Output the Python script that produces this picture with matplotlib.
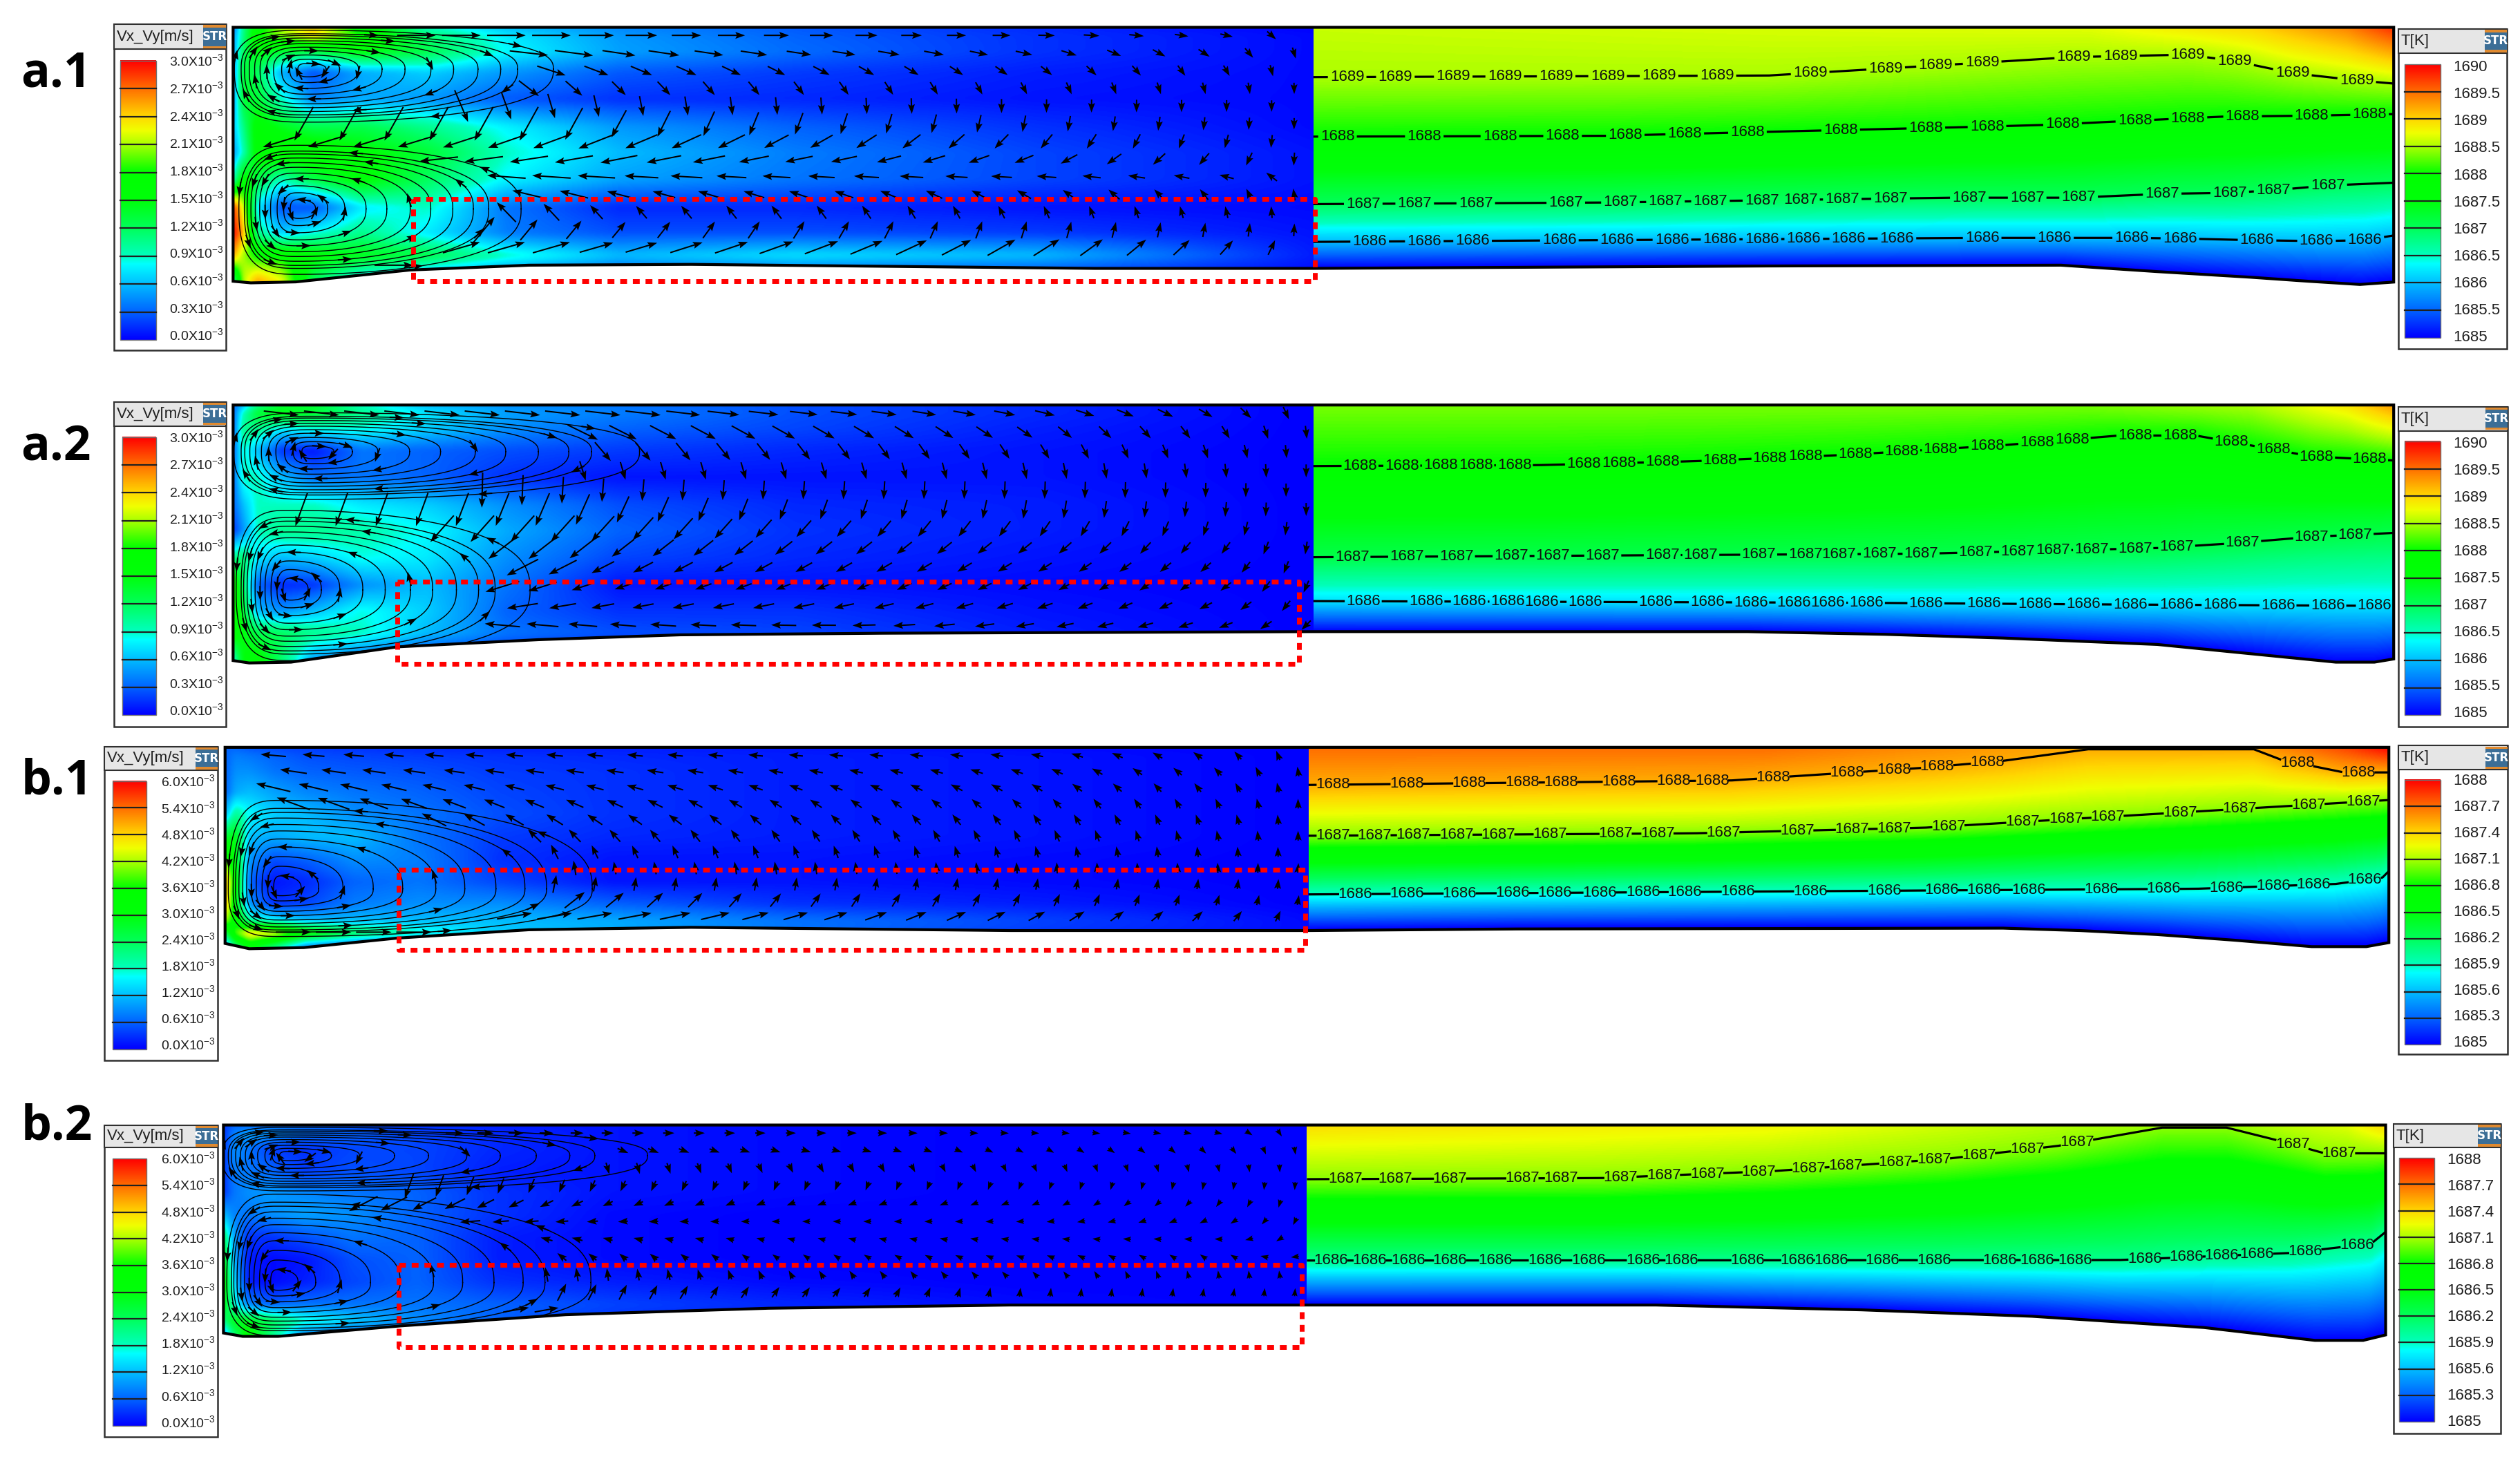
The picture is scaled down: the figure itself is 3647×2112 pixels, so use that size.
import numpy as np
import matplotlib
matplotlib.use('Agg')
import matplotlib.pyplot as plt
from matplotlib.colors import LinearSegmentedColormap
from matplotlib.patches import Polygon, Rectangle

plt.rcParams['font.family'] = ['Liberation Sans', 'DejaVu Sans']
plt.rcParams['mathtext.default'] = 'regular'

# all positions below in a 1568 wide frame
panel_names = ['a.1', 'a.2', 'b.1', 'b.2']
name_y = [54, 286, 494, 709]
left_x = [145, 145, 140, 139]
mid_x = [817, 817, 814, 813]
right_x = [1489, 1489, 1486, 1484]
top_y = [17, 252, 465, 700]

a1_wall_x = [145, 156, 184, 255, 329, 430, 681, 817, 1100, 1282, 1342, 1400, 1436, 1468, 1489]
a1_wall_y = [175, 176, 175.4, 168, 165, 164.5, 167, 167, 165.5, 165, 169, 172.5, 175, 177, 175.5]
a2_wall_x = [145, 155, 181, 247, 335, 423, 549, 817, 1087, 1173, 1246, 1342, 1453, 1477, 1489]
a2_wall_y = [411, 412.5, 412, 402.5, 398, 395, 394, 393, 393, 394.7, 397, 401, 412, 412, 410]
b1_wall_x = [140, 155, 189, 247, 329, 430, 629, 814, 944, 1246, 1294, 1342, 1390, 1438, 1472, 1486]
b1_wall_y = [587, 590.3, 589.6, 583.7, 578.5, 577, 579, 579, 578, 577.5, 579, 581.5, 585, 589, 589, 586.5]
b2_wall_x = [139, 151, 173, 249, 352, 478, 628, 813, 1030, 1158, 1264, 1371, 1440, 1470, 1484]
b2_wall_y = [829.4, 831.5, 831.5, 825, 818, 814, 812, 812, 812, 815, 819, 826, 834, 834, 830.6]
wall_x = [a1_wall_x, a2_wall_x, b1_wall_x, b2_wall_x]
wall_y = [a1_wall_y, a2_wall_y, b1_wall_y, b2_wall_y]

# speed, as a fraction of the colour bar, on a coarse table
speed_dx = [0, 6, 15, 30, 50, 80, 120, 170, 240, 350, 500, 672]
a1_speed_y = [17, 22, 32, 45, 62, 79, 95, 112, 129, 145, 159, 175]
a1_speed = [
    [.10, .35, .55, .70, .80, .55, .30, .20, .14, .09, .04, .00],
    [.15, .35, .60, .68, .78, .60, .38, .25, .16, .10, .05, .01],
    [.15, .40, .50, .45, .42, .50, .42, .27, .17, .11, .05, .01],
    [.15, .45, .40, .18, .08, .18, .22, .16, .09, .06, .03, .01],
    [.15, .45, .45, .30, .14, .18, .16, .09, .05, .04, .02, .01],
    [.20, .35, .55, .48, .42, .42, .35, .26, .16, .10, .05, .01],
    [.15, .30, .55, .58, .58, .52, .45, .30, .20, .13, .07, .02],
    [.30, .55, .42, .30, .42, .52, .40, .26, .17, .12, .07, .02],
    [.95, .75, .25, .08, .08, .25, .30, .12, .04, .04, .02, .01],
    [1.0, .85, .35, .22, .28, .35, .25, .13, .08, .08, .06, .02],
    [.85, .70, .58, .58, .52, .48, .42, .30, .20, .24, .20, .03],
    [.30, .70, .85, .75, .40, .22, .12, .08, .05, .05, .02, .00],
]
a2_speed_y = [252, 257, 267, 280, 297, 314, 330, 347, 364, 380, 394, 412]
a2_speed = [
    [.10, .20, .35, .45, .45, .30, .20, .15, .12, .08, .04, .00],
    [.10, .30, .45, .50, .45, .35, .25, .17, .13, .08, .04, .00],
    [.10, .35, .35, .25, .28, .28, .22, .15, .10, .07, .03, .00],
    [.10, .30, .20, .05, .02, .12, .10, .08, .06, .04, .02, .00],
    [.10, .30, .30, .20, .12, .12, .10, .05, .02, .02, .02, .00],
    [.10, .20, .30, .30, .30, .25, .22, .15, .08, .04, .03, .00],
    [.05, .15, .30, .35, .35, .32, .27, .18, .10, .05, .03, .00],
    [.35, .38, .25, .20, .22, .28, .25, .15, .07, .04, .02, .00],
    [.60, .40, .10, .04, .05, .15, .20, .12, .02, .02, .01, .00],
    [.60, .45, .20, .15, .20, .28, .22, .10, .05, .05, .02, .00],
    [.55, .50, .42, .40, .35, .30, .20, .12, .08, .07, .03, .00],
    [.25, .50, .55, .38, .15, .08, .03, .01, .00, .00, .00, .00],
]
b1_speed_y = [465, 470, 480, 493, 507, 521, 535, 549, 563, 573, 581, 590]
b1_speed = [
    [.10, .10, .08, .07, .06, .05, .04, .03, .03, .02, .01, .00],
    [.10, .13, .12, .10, .08, .07, .06, .05, .04, .03, .02, .00],
    [.10, .15, .15, .12, .10, .09, .08, .06, .05, .03, .02, .00],
    [.10, .18, .20, .17, .14, .12, .10, .07, .05, .03, .02, .00],
    [.20, .35, .27, .22, .20, .15, .12, .08, .05, .03, .02, .00],
    [.45, .50, .20, .18, .20, .20, .12, .06, .04, .03, .02, .00],
    [.65, .50, .15, .08, .10, .15, .13, .05, .02, .02, .01, .00],
    [.85, .55, .10, .02, .04, .10, .12, .07, .02, .02, .01, .00],
    [.85, .50, .15, .05, .07, .13, .15, .15, .10, .05, .03, .00],
    [.70, .55, .32, .26, .20, .20, .20, .20, .18, .12, .07, .01],
    [.40, .65, .80, .75, .55, .40, .30, .22, .18, .12, .06, .01],
    [.12, .35, .50, .35, .12, .05, .03, .02, .01, .00, .00, .00],
]
b2_speed_y = [700, 705, 715, 728, 742, 756, 770, 784, 798, 812, 822, 832]
b2_speed = [
    [.05, .10, .10, .10, .10, .08, .05, .03, .02, .01, .00, .00],
    [.05, .13, .17, .16, .12, .10, .07, .04, .02, .01, .00, .00],
    [.05, .15, .12, .06, .05, .07, .07, .04, .02, .01, .00, .00],
    [.05, .13, .12, .10, .06, .08, .07, .03, .02, .01, .00, .00],
    [.05, .12, .15, .16, .14, .12, .10, .05, .02, .01, .00, .00],
    [.20, .14, .12, .15, .17, .15, .10, .05, .01, .00, .00, .00],
    [.40, .18, .05, .05, .08, .12, .10, .03, .01, .00, .00, .00],
    [.50, .20, .03, .01, .02, .08, .10, .03, .01, .00, .00, .00],
    [.55, .25, .03, .01, .03, .07, .10, .05, .03, .01, .00, .00],
    [.50, .30, .14, .10, .12, .12, .12, .10, .07, .04, .01, .00],
    [.35, .48, .48, .40, .30, .22, .15, .10, .05, .02, .00, .00],
    [.12, .35, .55, .35, .12, .08, .02, .00, .00, .00, .00, .00],
]
speed_y = [a1_speed_y, a2_speed_y, b1_speed_y, b2_speed_y]
speed_tables = [a1_speed, a2_speed, b1_speed, b2_speed]

# flow heading in degrees (0 right, 90 up) at these columns
heading_x = [265, 385, 520, 640, 760, 810]
a1_heading_y = [22, 35, 50, 65, 75, 85, 100, 115, 128, 140, 152, 162]
a1_heading = [
    [0, 0, 0, 0, -10, -60],
    [-5, -10, -10, -15, -40, -80],
    [-15, -30, -40, -50, -70, -90],
    [-60, -75, -85, -90, -90, -90],
    [-110, -110, -100, -95, -95, -90],
    [200, 205, 215, 235, 260, 270],
    [185, 190, 190, 200, 230, 270],
    [170, 170, 170, 165, 140, 100],
    [165, 160, 150, 130, 110, 90],
    [60, 60, 70, 85, 90, 90],
    [20, 20, 25, 35, 50, 80],
    [0, 0, 5, 15, 30, 60],
]
a2_heading_y = [253, 259, 274, 288, 302, 317, 331, 345, 360, 374, 388]
a2_heading = [
    [0, 0, 0, -5, -15, -60],
    [-10, -10, -10, -15, -40, -80],
    [-30, -35, -40, -45, -65, -85],
    [-60, -65, -65, -70, -80, -90],
    [-85, -90, -90, -90, -90, -90],
    [-110, -115, -110, -100, -95, -90],
    [225, 225, 225, 230, 250, 265],
    [215, 215, 215, 215, 225, 260],
    [200, 200, 205, 210, 220, 250],
    [190, 195, 195, 200, 210, 240],
    [175, 175, 180, 190, 200, 225],
]
b1_heading_y = [470, 485, 500, 515, 530, 543, 553, 562, 572, 576]
b1_heading = [
    [175, 175, 175, 170, 140, 100],
    [170, 170, 165, 155, 130, 95],
    [160, 155, 145, 135, 115, 90],
    [150, 140, 130, 120, 105, 90],
    [120, 115, 110, 105, 95, 90],
    [90, 95, 95, 90, 90, 85],
    [70, 75, 75, 75, 80, 85],
    [25, 30, 50, 60, 70, 80],
    [5, 5, 10, 20, 40, 70],
    [0, 0, 5, 10, 20, 60],
]
b2_heading_y = [703, 712, 722, 732, 745, 755, 767, 780, 795, 805, 810]
b2_heading = [
    [0, 0, 0, 0, -10, -70],
    [-10, 0, 0, -15, -30, -80],
    [-40, -60, -40, -50, -70, -90],
    [-80, -90, -80, -80, -85, -90],
    [215, 215, 210, 210, 240, 265],
    [195, 190, 185, 190, 220, 255],
    [170, 175, 170, 175, 190, 235],
    [150, 145, 150, 165, 150, 200],
    [100, 90, 120, 130, 90, 90],
    [60, 60, 45, 80, 80, 85],
    [10, 10, 20, 30, 60, 80],
]
heading_y = [a1_heading_y, a2_heading_y, b1_heading_y, b2_heading_y]
heading_tables = [a1_heading, a2_heading, b1_heading, b2_heading]
arrow_step_x = [28, 25, 25, 19]
arrow_step_y = [11, 12, 10, 11]
arrow_base = [6, 8, 6, 5]
arrow_gain = [90, 120, 100, 120]
arrow_cap = [24, 22, 22, 20]

# eddies: centre x, centre y, left, right, up, down, turn (1 = clockwise on screen)
a1_eddies = [(192, 43, 42, 130, 22, 30, 1), (186, 130, 34, 118, 36, 37, -1)]
a2_eddies = [(195, 281, 45, 173, 22, 27, 1), (181, 367, 31, 127, 45, 40, -1)]
b1_eddies = [(175, 553, 30, 165, 50, 27, -1)]
b2_eddies = [(180, 719, 38, 190, 16, 20, 1), (173, 798, 29, 166, 50, 30, -1)]
eddies = [a1_eddies, a2_eddies, b1_eddies, b2_eddies]
eddy_rings = [.16, .28, .4, .52, .62, .72, .8, .88, .95, 1.0, 1.1]

# isotherms: x knots, y knots, field value on the colour bar, label, label x
a1_iso = [
    ([817, 1100, 1233, 1290, 1361, 1390, 1426, 1466, 1489], [48, 47, 39, 35.5, 34, 38, 45.5, 50, 52], .70, '1689',
     [838, 868, 904, 936, 968, 1000, 1032, 1068, 1126, 1173, 1204, 1233, 1290, 1319, 1361, 1390, 1426, 1466]),
    ([817, 1000, 1100, 1226, 1273, 1319, 1384, 1435, 1489], [85, 84.5, 82, 79, 77.7, 75.5, 72.5, 72, 71], .60, '1688',
     [832, 886, 933, 972, 1011, 1048, 1087, 1145, 1198, 1236, 1283, 1328, 1361, 1395, 1438, 1474]),
    ([817, 1000, 1215, 1291, 1345, 1387, 1414, 1448, 1489], [127, 126, 123, 123, 120.6, 120, 118.4, 115.4, 113.7], .40, '1687',
     [848, 880, 918, 974, 1008, 1036, 1064, 1096, 1120, 1146, 1176, 1225, 1261, 1293, 1345, 1387, 1414, 1448]),
    ([817, 1233, 1326, 1356, 1404, 1441, 1471, 1489], [150.5, 148, 148, 148.4, 149.5, 150, 149.5, 146.5], .20, '1686',
     [852, 886, 916, 970, 1006, 1040, 1070, 1096, 1122, 1150, 1180, 1233, 1278, 1326, 1356, 1404, 1441, 1471]),
]
a2_iso = [
    ([817, 957, 1053, 1149, 1246, 1318, 1366, 1405, 1438, 1489], [290, 289.4, 287, 283, 277, 271, 271, 278, 284, 286.5], .60, '1688',
     [846, 872, 896, 918, 942, 985, 1007, 1034, 1070, 1101, 1123, 1154, 1183, 1207, 1236, 1267, 1289, 1328, 1356, 1388, 1414, 1441, 1474]),
    ([817, 1197, 1342, 1390, 1438, 1489], [346.7, 344.5, 341, 338, 334, 331.6], .42, '1687',
     [841, 875, 906, 940, 966, 997, 1034, 1058, 1094, 1123, 1144, 1169, 1195, 1229, 1255, 1277, 1301, 1328, 1354, 1395, 1438, 1465]),
    ([817, 1149, 1294, 1489], [374, 375, 376, 377], .24, '1686',
     [848, 887, 914, 938, 959, 986, 1030, 1062, 1089, 1116, 1137, 1161, 1198, 1234, 1266, 1296, 1325, 1354, 1381, 1417, 1448, 1477]),
]
b1_iso = [
    ([814, 1077, 1120, 1197, 1246, 1299, 1402, 1419, 1458, 1486], [488.4, 485.6, 482.7, 477.7, 473.4, 466.2, 466.2, 472.7, 480.6, 480.6], .84, '1688',
     [829, 875, 914, 947, 971, 1007, 1041, 1065, 1103, 1149, 1178, 1205, 1236, 1429, 1467]),
    ([814, 1053, 1197, 1318, 1390, 1486], [520, 518.5, 515, 507.8, 503.5, 497.8], .68, '1687',
     [829, 855, 879, 906, 932, 964, 1005, 1031, 1072, 1118, 1152, 1178, 1212, 1258, 1285, 1311, 1356, 1393, 1436, 1470]),
    ([814, 1270, 1366, 1453, 1482, 1486], [556.5, 553.6, 553, 550, 546, 542], .30, '1686',
     [843, 875, 908, 941, 967, 995, 1022, 1048, 1081, 1126, 1172, 1208, 1234, 1262, 1307, 1346, 1385, 1414, 1439, 1471]),
]
b2_iso = [
    ([813, 997, 1104, 1211, 1280, 1345, 1385, 1417, 1446, 1484], [733.7, 733, 728.6, 721, 713, 701.6, 701.6, 709.6, 717.6, 717.6], .68, '1687',
     [837, 868, 902, 947, 971, 1008, 1035, 1062, 1094, 1125, 1148, 1179, 1203, 1231, 1261, 1292, 1426, 1455]),
    ([813, 1318, 1425, 1475, 1484], [784.3, 784, 779.6, 773.8, 766.5], .35, '1686',
     [828, 852, 876, 902, 930, 961, 988, 1022, 1046, 1087, 1118, 1139, 1171, 1203, 1244, 1267, 1291, 1334, 1360, 1382, 1404, 1434, 1466]),
]
isotherms = [a1_iso, a2_iso, b1_iso, b2_iso]
iso_font = ['Liberation Sans', 'Liberation Sans', 'Liberation Sans Narrow', 'Liberation Sans Narrow']
iso_gap = [12, 11.5, 10, 10]

# field value along the top wall of the temperature half
a1_top_x, a1_top_c = [817, 1300, 1400, 1460, 1489], [.72, .74, .80, .88, .96]
a2_top_x, a2_top_c = [817, 1300, 1400, 1460, 1489], [.67, .67, .70, .78, .86]
b1_top_x, b1_top_c = [814, 1100, 1300, 1400, 1460, 1486], [.90, .90, .84, .85, .94, 1.0]
b2_top_x, b2_top_c = [813, 1100, 1300, 1400, 1460, 1484], [.79, .76, .70, .70, .74, .80]
top_xs = [a1_top_x, a2_top_x, b1_top_x, b2_top_x]
top_cs = [a1_top_c, a2_top_c, b1_top_c, b2_top_c]

# dotted red boxes: left, right, top, bottom
box_l = [257, 247, 248, 248]
box_r = [818, 808, 812, 810]
box_t = [124, 362, 541, 787]
box_b = [175, 413, 591, 838]

# legends
speed_labels_a = ['3.0', '2.7', '2.4', '2.1', '1.8', '1.5', '1.2', '0.9', '0.6', '0.3', '0.0']
speed_labels_b = ['6.0', '5.4', '4.8', '4.2', '3.6', '3.0', '2.4', '1.8', '1.2', '0.6', '0.0']
temp_labels_a = ['1690', '1689.5', '1689', '1688.5', '1688', '1687.5', '1687', '1686.5', '1686', '1685.5', '1685']
temp_labels_b = ['1688', '1687.7', '1687.4', '1687.1', '1686.8', '1686.5', '1686.2', '1685.9', '1685.6', '1685.3', '1685']
speed_box = [(71, 140.5, 15, 218, 30.6, 75, 97, 37.7, 211.6, 105.5, 38, 208.7),
             (71, 140.5, 250, 452, 265, 76, 97, 272, 445, 105.5, 272, 442),
             (65, 135.6, 464.5, 659.6, 479.3, 70, 91, 486, 652.8, 100, 486.4, 650),
             (65, 135.6, 700, 894, 714, 70, 91, 721, 887, 100, 721, 885)]
temp_box = [(1492, 1559.5, 18, 217, 33, 1496, 1518, 40, 210, 1526, 42, 210),
            (1492, 1560, 253, 452, 268, 1496, 1518, 274.6, 445, 1526, 276, 444),
            (1492, 1560, 464, 656, 479, 1496, 1518, 485.3, 650, 1526, 486, 649),
            (1489, 1555.5, 699.4, 892, 714, 1492.5, 1514.4, 720.5, 884.6, 1522, 722, 884.6)]

bar_colors = [(0, '#0000ff'), (.1, '#0064ff'), (.2, '#00beff'), (.27, '#00ffff'), (.3, '#00ffbe'),
              (.4, '#00ff5a'), (.5, '#00ff0a'), (.6, '#00ff00'), (.7, '#aaff00'), (.75, '#f0ff00'),
              (.8, '#ffd700'), (.9, '#ff6e00'), (1, '#ff0000')]
cmap = LinearSegmentedColormap.from_list('bar', bar_colors)


def table_to_grid(table, xk, yk, gx, gy):
    rows = np.array([np.interp(gx, xk, r) for r in np.array(table, dtype=float)])
    return np.array([np.interp(gy, yk, rows[:, i]) for i in range(len(gx))]).T


def soften(field, n):
    kernel = np.ones(n) / n
    pad = n // 2
    for axis in (0, 1):
        padded = np.pad(field, [(pad, pad) if a == axis else (0, 0) for a in (0, 1)], mode='edge')
        field = np.apply_along_axis(lambda m: np.convolve(m, kernel, mode='valid'), axis, padded)
    return field


def ring_xy(eddy, rho, t):
    cx, cy, left, right, up, down, turn = eddy
    c, s = np.cos(t), np.sin(t)
    ex = np.where(c < 0, 2 / 3.2, 1.0)
    ey = 2 / 2.6
    # inner rings are nearly round, the outer ones stretch to the right
    reach = np.where(c < 0, left * rho, right * rho ** 1.7 + 6 * (1 - rho))
    x = cx + reach * np.sign(c) * np.abs(c) ** ex
    y = cy + rho * np.where(s < 0, up, down) * np.sign(s) * np.abs(s) ** ey
    return x, y


def inside_eddy(eddy, x, y):
    cx, cy, left, right, up, down, turn = eddy
    dx, dy = x - cx, y - cy
    rx = np.where(dx < 0, left, right)
    px = np.where(dx < 0, 3.2, 2.0)
    ry = np.where(dy < 0, up, down)
    return (np.abs(dx) / rx) ** px + (np.abs(dy) / ry) ** 2.6 < 1.0


fig = plt.figure(figsize=(36.48, 21.12), dpi=100)
ax = fig.add_axes([0, 0, 1, 1])

for p in range(4):
    x0, xm, x1, top = left_x[p], mid_x[p], right_x[p], top_y[p]
    ax.text(13, name_y[p], panel_names[p], fontsize=50, fontweight='bold', family='Open Sans',
            ha='left', va='baseline', color='black')

    # domain outline
    wx, wy = np.array(wall_x[p], float), np.array(wall_y[p], float)
    outline = [(x0, top), (x1, top)] + list(zip(wx[::-1], wy[::-1]))
    bottom_max = wy.max()

    # speed half
    gx = np.arange(x0, xm + .5, .5)
    gy = np.arange(top, bottom_max + .5, .5)
    speed_xk = [x0 + d * (xm - x0) / 672 for d in speed_dx]
    speed = table_to_grid(speed_tables[p], speed_xk, speed_y[p], gx, gy)
    speed = soften(soften(speed, 7), 7)
    im = ax.imshow(speed, extent=[x0, xm, bottom_max, top], cmap=cmap, vmin=0, vmax=1,
                   aspect='auto', interpolation='bilinear', zorder=1)
    im.set_clip_path(Polygon(outline, closed=True, transform=ax.transData))

    # temperature half
    gx2 = np.arange(xm, x1 + .5, .5)
    field = np.zeros((len(gy), len(gx2)))
    lines = isotherms[p]
    top_c = np.interp(gx2, top_xs[p], top_cs[p])
    wall_line = np.interp(gx2, wx, wy)
    line_y = [np.interp(gx2, ln[0], ln[1]) for ln in lines]
    for i in range(len(gx2)):
        yk = [top] + [ly[i] for ly in line_y] + [wall_line[i]]
        ck = [top_c[i]] + [ln[2] for ln in lines] + [0]
        yk = np.maximum.accumulate(np.array(yk) + np.arange(len(yk)) * 1e-3)
        field[:, i] = np.interp(gy, yk, ck)
    field = soften(field, 5)
    im2 = ax.imshow(field, extent=[xm, x1, bottom_max, top], cmap=cmap, vmin=0, vmax=1,
                    aspect='auto', interpolation='bilinear', zorder=1)
    im2.set_clip_path(Polygon(outline, closed=True, transform=ax.transData))

    # isotherm lines with labels
    for k, ln in enumerate(lines):
        ly = line_y[k].copy()
        for lx in ln[4]:
            ly[np.abs(gx2 - lx) < iso_gap[p]] = np.nan
        ax.plot(gx2, ly, color='black', lw=2.3, zorder=3, solid_capstyle='butt')
        for lx in ln[4]:
            ax.text(lx, np.interp(lx, ln[0], ln[1]), ln[3], fontsize=16, family=[iso_font[p], 'Liberation Sans'],
                    ha='center', va='center', color='#101010', zorder=4)

    # eddy loops
    t = np.linspace(0, 2 * np.pi, 241)
    clip_poly = Polygon(outline, closed=True, transform=ax.transData)
    ring_x, ring_y, ring_u, ring_v = [], [], [], []
    for e in eddies[p]:
        for n, rho in enumerate(eddy_rings):
            xr, yr = ring_xy(e, rho, t)
            line, = ax.plot(xr, yr, color='black', lw=1.0, zorder=3)
            line.set_clip_path(clip_poly)
            for a in np.linspace(.3 + .7 * n, 5 + .7 * n, 3):
                xa, ya = ring_xy(e, rho, np.array([a - .02, a + .02]))
                d = np.hypot(xa[1] - xa[0], ya[1] - ya[0]) + 1e-6
                ring_x.append(xa.mean())
                ring_y.append(ya.mean())
                ring_u.append(e[6] * (xa[1] - xa[0]) / d * 9)
                ring_v.append(e[6] * (ya[1] - ya[0]) / d * 9)

    # arrows in the open part of the half
    hx, hy = np.array(heading_x, float), np.array(heading_y[p], float)
    ang = np.radians(np.array(heading_tables[p], float))
    cos_t, sin_t = np.cos(ang), np.sin(ang)
    px, py, pu, pv = [], [], [], []
    for r, y in enumerate(np.arange(top + 5, bottom_max, arrow_step_y[p])):
        shift = (r % 2) * arrow_step_x[p] / 2
        for x in np.arange(x0 + 30 + shift, xm - 3, arrow_step_x[p]):
            if y > np.interp(x, wx, wy) - 3:
                continue
            if any(inside_eddy(e, np.array(x), np.array(y)) for e in eddies[p]):
                continue
            ci = [np.interp(y, hy, cos_t[:, j]) for j in range(len(hx))]
            si = [np.interp(y, hy, sin_t[:, j]) for j in range(len(hx))]
            c, s = np.interp(x, hx, ci), np.interp(x, hx, si)
            norm = np.hypot(c, s) + 1e-6
            ix = min(int((x - x0) * 2), speed.shape[1] - 1)
            iy = min(int((y - top) * 2), speed.shape[0] - 1)
            length = min(arrow_base[p] + arrow_gain[p] * speed[iy, ix], arrow_cap[p])
            px.append(x)
            py.append(y)
            pu.append(c / norm * length)
            pv.append(-s / norm * length)
    px += ring_x
    py += ring_y
    pu += ring_u
    pv += ring_v
    q = ax.quiver(px, py, pu, pv, angles='xy', scale_units='xy', scale=1, pivot='mid', color='black',
                  units='dots', width=2.0, headwidth=5, headlength=7, headaxislength=6, zorder=3)
    q.set_clip_path(Polygon(outline, closed=True, transform=ax.transData))

    # outline on top
    ax.add_patch(Polygon(outline, closed=True, fill=False, edgecolor='black', lw=3, zorder=5, joinstyle='miter'))

    # dotted red box
    ax.plot([box_l[p], box_r[p], box_r[p], box_l[p], box_l[p]],
            [box_t[p], box_t[p], box_b[p], box_b[p], box_t[p]],
            color='#ff0000', lw=5, linestyle=(0, (1.43, 1.21)), dash_capstyle='butt', zorder=6)

    # legends
    speed_labels = speed_labels_a if p < 2 else speed_labels_b
    temp_labels = temp_labels_a if p < 2 else temp_labels_b
    for kind, geo, labels in (('Vx_Vy[m/s]', speed_box[p], speed_labels), ('T[K]', temp_box[p], temp_labels)):
        bl, br, bt, bb, hb, cl, cr, ct, cb, tx, ty0, ty1 = geo
        ax.add_patch(Rectangle((bl, bt), br - bl, bb - bt, facecolor='white', edgecolor='#303030', lw=1.8, zorder=2))
        ax.add_patch(Rectangle((bl, bt), br - bl, hb - bt, facecolor='#e6e6e6', edgecolor='#303030', lw=1.5, zorder=2))
        ax.add_patch(Rectangle((br - 14, bt + .5), 14, hb - bt - 1, facecolor='#e08a30', edgecolor='none', zorder=3))
        ax.add_patch(Rectangle((br - 14, bt + 2), 14, hb - bt - 4, facecolor='#3c6e96', edgecolor='none', zorder=3))
        ax.text(br - 7, (bt + hb) / 2, 'STR', fontsize=12, color='white', ha='center', va='center',
                family='Liberation Sans Narrow', fontweight='bold', zorder=4)
        ax.text(bl + 1.5, (bt + hb) / 2, kind, fontsize=16, color='#202020', ha='left', va='center', zorder=4)
        ramp = np.linspace(1, 0, 256).reshape(-1, 1)
        ax.imshow(ramp, extent=[cl, cr, cb, ct], cmap=cmap, vmin=0, vmax=1, aspect='auto', zorder=3)
        ax.add_patch(Rectangle((cl, ct), cr - cl, cb - ct, fill=False, edgecolor='#707070', lw=1, zorder=4))
        for v in np.linspace(ct, cb, 11)[1:-1]:
            ax.plot([cl, cr], [v, v], color='#202020', lw=1.6, zorder=4)
        for lab, v in zip(labels, np.linspace(ty0, ty1, 11)):
            if kind == 'T[K]':
                ax.text(tx, v, lab, fontsize=16, color='#202020', ha='left', va='center', zorder=4)
            else:
                ax.text(tx, v, lab + 'X10$^{-3}$', fontsize=14, color='#202020', ha='left', va='center', zorder=4)

ax.set_xlim(0, 1568)
ax.set_ylim(907.8, 0)
ax.axis('off')
fig.savefig('out.png', dpi=100, facecolor='white')
